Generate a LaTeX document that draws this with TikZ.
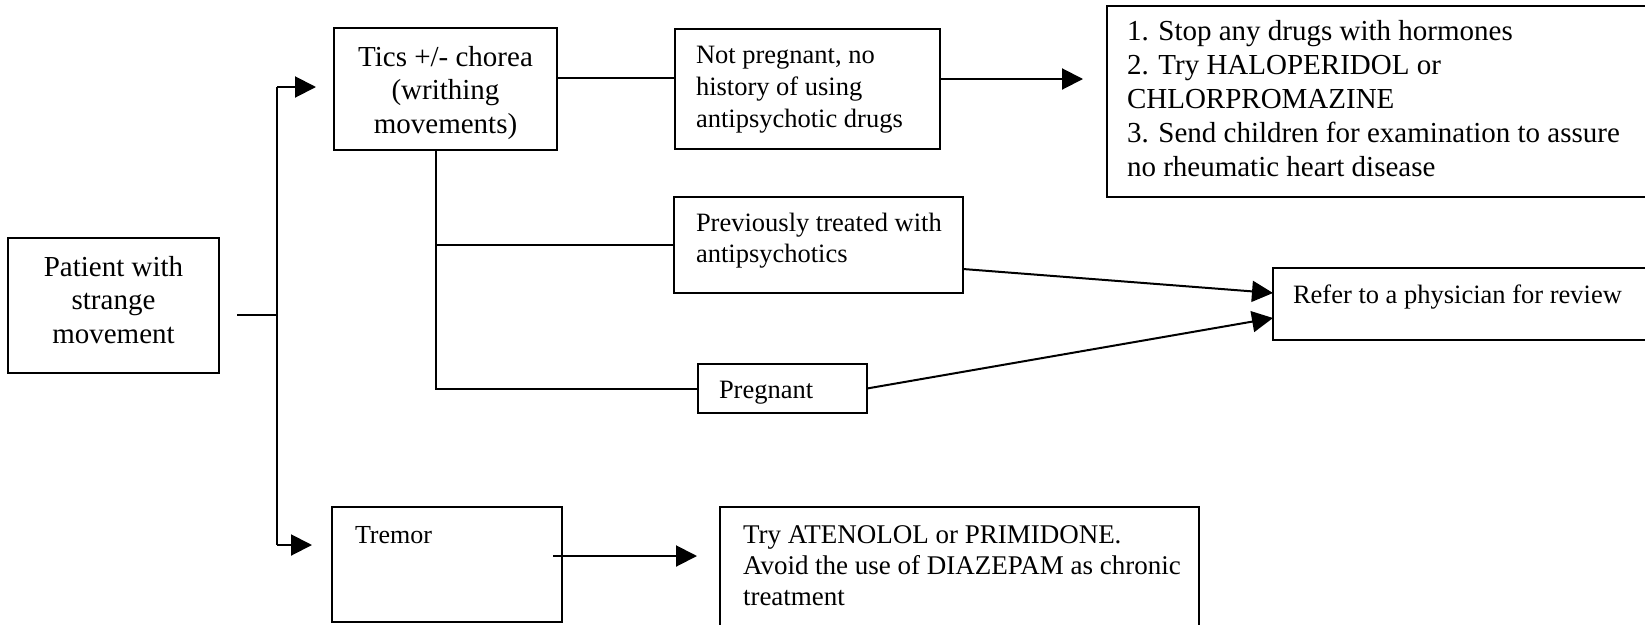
\documentclass[tikz,border=0pt]{standalone}
\usepackage{fontspec}
\setmainfont{Liberation Serif}
\usetikzlibrary{arrows.meta}

% fixed-size cell: width, height, first baseline, alignment, font, text
\newcommand\cellbox[6]{%
  \parbox[c][#2pt][t]{#1pt}{#4#5\rule{0pt}{#3pt}#6}}
\newcommand\insetleft[1]{\raggedright\leftskip=#1pt\relax}
\newcommand\fbig{\fontsize{29pt}{33.5pt}\selectfont}
\newcommand\fmid{\fontsize{26.5pt}{32pt}\selectfont}

\begin{document}
\begin{tikzpicture}[x=1pt,y=-1pt,
  box/.style={draw, line width=2pt, inner sep=0pt, outer sep=0pt, anchor=north west},
  link/.style={line width=2pt},
  arr/.style={line width=2pt, -{Triangle[length=21pt,width=21pt]}}]
\useasboundingbox (0,0) rectangle (1645,624);

% boxes
\node[box] (patient) at (8,238)
  {\cellbox{211}{135}{38}{\centering}{\fbig}{Patient with\\strange\\movement}};
\node[box] (tics) at (334,28)
  {\cellbox{223}{122}{38}{\centering}{\fbig}{Tics +/- chorea\\(writhing\\movements)}};
\node[box] (notpreg) at (675,29)
  {\cellbox{265}{120}{34}{\insetleft{21}}{\fmid}{Not pregnant, no\\history of using\\antipsychotic drugs}};
\node[box] (plan) at (1107,6)
  {\cellbox{620}{191}{34}{\insetleft{20}}{\fontsize{29pt}{34pt}\selectfont}{1. Stop any drugs with hormones\\2. Try HALOPERIDOL or\\CHLORPROMAZINE\\3. Send children for examination to assure\\no rheumatic heart disease}};
\node[box] (prev) at (674,197)
  {\cellbox{289}{96}{34}{\insetleft{22}}{\fontsize{26.5pt}{31pt}\selectfont}{Previously treated with\\antipsychotics}};
\node[box] (preg) at (698,364)
  {\cellbox{169}{49}{34}{\insetleft{21}}{\fmid}{Pregnant}};
\node[box] (refer) at (1273,268)
  {\cellbox{500}{72}{35}{\insetleft{20}}{\fmid}{Refer to a physician for review}};
\node[box] (tremor) at (332,507)
  {\cellbox{230}{115}{36}{\insetleft{23}}{\fontsize{26pt}{31pt}\selectfont}{Tremor}};
\node[box] (trybox) at (720,507)
  {\cellbox{479}{200}{36}{\insetleft{23}}{\fontsize{27pt}{31pt}\selectfont}{Try ATENOLOL or PRIMIDONE.\\Avoid the use of DIAZEPAM as chronic\\treatment}};

% main split
\coordinate (j)  at (277,315);
\coordinate (jt) at (277,87);
\coordinate (jb) at (277,545);
\draw[link] ([xshift=18pt,yshift=-9.5pt]patient.east) -- (j);
\draw[link] (jt) -- (jb);
\draw[arr, shorten >=18pt] (jt) -- (jt -| tics.west);
\draw[arr, shorten >=20pt] (jb) -- (jb -| tremor.west);

% chorea branch
\draw[link] ([yshift=11pt]tics.east) -- ([yshift=11pt]notpreg.west);
\coordinate (npout) at ([yshift=10pt]notpreg.east);
\draw[arr, shorten >=24pt] (npout) -- (npout -| plan.west);
\coordinate (tv) at ([xshift=-9.5pt]tics.south);
\draw[link] (tv) |- (preg.west);
\draw[link] (tv |- prev.west) -- (prev.west);
\draw[arr] ([yshift=-24pt]prev.east) -- ([yshift=11pt]refer.west);
\draw[arr] (preg.east) -- ([yshift=-14pt]refer.west);

% tremor branch
\coordinate (trout) at ([xshift=-9pt,yshift=8.5pt]tremor.east);
\draw[arr, shorten >=23pt] (trout) -- (trout -| trybox.west);
\end{tikzpicture}
\end{document}
